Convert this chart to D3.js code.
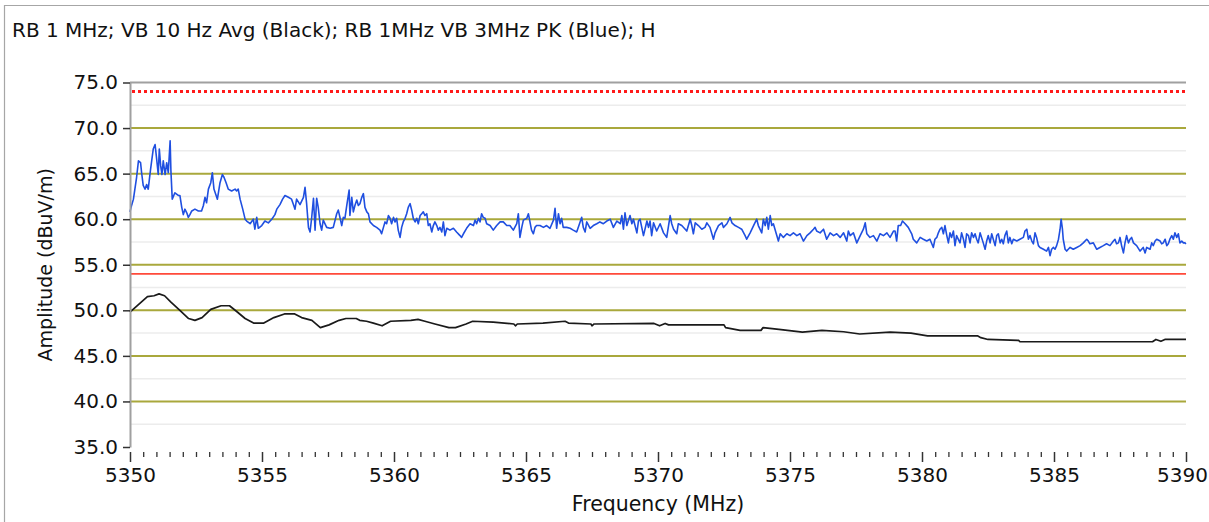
<!DOCTYPE html>
<html>
<head>
<meta charset="utf-8">
<script src="https://cdn.jsdelivr.net/npm/d3@7"></script>
<style>
  html, body { margin: 0; padding: 0; background: #fff; }
  svg { display: block; font-family: "DejaVu Sans", Verdana, sans-serif; }
</style>
</head>
<body>
<svg id="chart" width="1209" height="522"></svg>
<script>
// ---- chart data ----
const chartTitle = "RB 1 MHz; VB 10 Hz Avg (Black); RB 1MHz VB 3MHz PK (Blue); H";
const xLabel = "Frequency (MHz)";
const yLabel = "Amplitude (dBuV/m)";
const freqDomain = [5350, 5390];
const ampDomain = [35, 75];
const freqTicks = [5350, 5355, 5360, 5365, 5370, 5375, 5380, 5385, 5390];
const ampTicks = [35, 40, 45, 50, 55, 60, 65, 70, 75];
const peakLimit = 74;     // dBuV/m, dotted red
const avgLimit = 54;      // dBuV/m, solid red

// Peak detector sweep (blue): [MHz, dBuV/m]
const peakTrace = [
  [5350.00,60.8],[5350.04,61.3],[5350.13,62.2],[5350.25,64.6],[5350.32,66.4],[5350.40,66.2],[5350.44,65.1],
  [5350.50,63.7],[5350.57,63.3],[5350.63,63.8],[5350.69,63.3],[5350.78,65.5],[5350.88,67.7],[5350.95,68.2],
  [5351.01,66.6],[5351.07,64.9],[5351.11,67.7],[5351.16,65.9],[5351.21,64.9],[5351.26,66.4],[5351.33,64.9],
  [5351.39,66.2],[5351.45,65.1],[5351.52,68.6],[5351.55,65.3],[5351.60,62.2],[5351.70,62.9],[5351.83,62.6],
  [5351.89,62.6],[5351.96,61.3],[5352.02,60.5],[5352.08,61.1],[5352.15,60.7],[5352.21,60.2],[5352.27,60.5],
  [5352.34,60.9],[5352.46,61.1],[5352.59,60.9],[5352.71,60.9],[5352.78,61.5],[5352.84,62.4],[5352.90,61.8],
  [5352.97,63.3],[5353.06,64.0],[5353.12,65.1],[5353.18,63.3],[5353.25,62.7],[5353.31,62.2],[5353.41,64.0],
  [5353.50,64.9],[5353.56,64.6],[5353.64,64.0],[5353.72,63.3],[5353.85,63.1],[5353.98,63.3],[5354.04,63.1],
  [5354.10,63.3],[5354.17,62.2],[5354.27,61.1],[5354.36,60.0],[5354.42,59.8],[5354.55,59.5],[5354.67,60.0],
  [5354.73,58.9],[5354.80,60.2],[5354.86,59.0],[5354.99,59.3],[5355.11,59.8],[5355.24,59.6],[5355.37,60.0],
  [5355.49,60.5],[5355.56,61.1],[5355.68,61.6],[5355.78,62.2],[5355.87,62.6],[5356.00,62.4],[5356.12,62.2],
  [5356.19,61.6],[5356.25,61.1],[5356.31,62.2],[5356.44,61.6],[5356.57,62.4],[5356.63,63.5],[5356.69,61.7],
  [5356.76,59.1],[5356.82,58.6],[5356.88,60.1],[5356.95,62.3],[5357.01,58.8],[5357.07,62.3],[5357.13,61.3],
  [5357.20,59.5],[5357.26,58.8],[5357.32,59.9],[5357.45,59.1],[5357.58,59.0],[5357.70,59.1],[5357.83,60.6],
  [5357.89,61.0],[5357.96,60.1],[5358.02,59.3],[5358.08,60.2],[5358.14,60.1],[5358.21,61.5],[5358.30,63.2],
  [5358.33,60.4],[5358.40,62.4],[5358.46,60.8],[5358.52,61.5],[5358.59,62.1],[5358.65,61.5],[5358.71,61.7],
  [5358.78,62.4],[5358.84,62.8],[5358.90,61.3],[5358.97,60.8],[5359.03,60.6],[5359.09,59.7],[5359.22,59.3],
  [5359.34,59.1],[5359.47,58.8],[5359.53,58.4],[5359.60,59.1],[5359.66,59.7],[5359.72,59.5],[5359.79,60.4],
  [5359.85,60.1],[5359.91,59.5],[5359.98,60.2],[5360.04,59.7],[5360.10,60.1],[5360.16,58.8],[5360.23,58.0],
  [5360.29,59.1],[5360.35,59.7],[5360.42,60.1],[5360.48,60.6],[5360.54,61.3],[5360.61,61.7],[5360.67,61.0],
  [5360.73,60.1],[5360.80,59.7],[5360.86,60.1],[5360.92,59.5],[5360.99,60.4],[5361.05,60.6],[5361.11,60.8],
  [5361.17,60.4],[5361.24,60.6],[5361.30,59.3],[5361.36,59.5],[5361.43,58.6],[5361.49,59.3],[5361.55,59.7],
  [5361.62,59.3],[5361.68,58.8],[5361.74,59.1],[5361.81,58.6],[5361.87,59.7],[5361.93,58.2],[5362.00,59.0],
  [5362.12,58.8],[5362.25,59.0],[5362.37,58.6],[5362.50,58.2],[5362.56,58.0],[5362.63,58.4],[5362.75,59.0],
  [5362.88,59.5],[5363.01,59.3],[5363.07,59.9],[5363.13,59.5],[5363.20,60.1],[5363.26,59.7],[5363.32,60.6],
  [5363.38,60.2],[5363.45,60.1],[5363.51,59.5],[5363.64,59.3],[5363.76,58.8],[5363.89,59.3],[5364.02,59.7],
  [5364.14,59.7],[5364.27,59.3],[5364.39,59.3],[5364.52,58.8],[5364.65,59.5],[5364.71,60.6],[5364.77,58.0],
  [5364.84,59.1],[5364.90,59.9],[5365.03,60.1],[5365.09,60.6],[5365.15,59.7],[5365.21,58.8],[5365.28,58.4],
  [5365.34,59.1],[5365.40,59.3],[5365.53,59.3],[5365.66,59.1],[5365.78,59.3],[5365.91,59.0],[5366.04,59.9],
  [5366.10,61.2],[5366.16,59.0],[5366.23,60.6],[5366.29,59.5],[5366.35,60.1],[5366.41,59.1],[5366.54,59.1],
  [5366.67,59.0],[5366.79,58.8],[5366.92,58.6],[5367.05,59.7],[5367.11,60.2],[5367.17,59.1],[5367.24,58.6],
  [5367.30,59.7],[5367.43,59.0],[5367.55,59.3],[5367.68,59.5],[5367.80,59.7],[5367.93,59.5],[5368.06,59.8],
  [5368.19,60.0],[5368.31,59.1],[5368.44,59.8],[5368.57,59.5],[5368.63,60.4],[5368.69,58.9],[5368.75,60.7],
  [5368.82,59.3],[5368.94,60.4],[5369.01,59.5],[5369.07,60.0],[5369.20,58.5],[5369.26,59.8],[5369.32,60.0],
  [5369.45,58.2],[5369.58,59.8],[5369.64,59.1],[5369.70,59.8],[5369.76,58.2],[5369.83,59.6],[5369.95,58.7],
  [5370.08,59.5],[5370.21,58.5],[5370.33,58.0],[5370.40,59.3],[5370.46,60.4],[5370.52,59.5],[5370.59,58.9],
  [5370.71,58.4],[5370.77,59.5],[5370.90,59.3],[5371.03,58.9],[5371.09,58.7],[5371.22,60.0],[5371.28,59.3],
  [5371.34,58.4],[5371.41,59.6],[5371.53,59.3],[5371.66,58.9],[5371.78,59.1],[5371.85,59.6],[5371.97,59.1],
  [5372.10,57.8],[5372.16,58.5],[5372.29,59.3],[5372.42,59.6],[5372.48,59.1],[5372.61,59.5],[5372.73,60.2],
  [5372.80,59.6],[5372.92,59.3],[5373.05,59.1],[5373.17,58.9],[5373.30,58.2],[5373.36,57.8],[5373.49,58.5],
  [5373.62,59.3],[5373.74,60.0],[5373.80,59.3],[5373.93,58.5],[5373.99,60.0],[5374.06,59.3],[5374.12,60.2],
  [5374.18,58.9],[5374.25,60.4],[5374.31,59.3],[5374.37,59.5],[5374.50,58.2],[5374.56,57.6],[5374.63,58.4],
  [5374.75,58.0],[5374.88,58.4],[5375.00,58.2],[5375.13,58.5],[5375.26,58.2],[5375.38,58.4],[5375.51,57.6],
  [5375.64,58.2],[5375.76,58.5],[5375.89,58.9],[5375.95,59.1],[5376.01,58.7],[5376.14,58.5],[5376.27,58.9],
  [5376.39,57.8],[5376.52,58.5],[5376.65,58.2],[5376.77,58.4],[5376.90,58.0],[5377.03,58.5],[5377.15,57.6],
  [5377.21,58.7],[5377.28,58.2],[5377.40,58.5],[5377.53,57.4],[5377.66,58.2],[5377.78,58.9],[5377.85,59.6],
  [5377.91,58.4],[5378.03,58.0],[5378.16,58.2],[5378.29,57.6],[5378.41,58.4],[5378.54,58.2],[5378.67,58.5],
  [5378.79,58.0],[5378.92,58.7],[5378.98,58.7],[5379.04,57.6],[5379.10,59.3],[5379.19,59.3],[5379.26,59.8],
  [5379.36,59.5],[5379.48,59.1],[5379.61,58.4],[5379.67,57.8],[5379.80,57.4],[5379.93,58.0],[5380.05,57.8],
  [5380.18,57.6],[5380.30,57.8],[5380.43,56.9],[5380.49,57.8],[5380.56,58.0],[5380.62,58.5],[5380.68,58.9],
  [5380.75,59.1],[5380.81,58.4],[5380.87,59.3],[5380.94,58.2],[5381.00,57.4],[5381.06,58.5],[5381.12,58.0],
  [5381.19,58.7],[5381.25,57.1],[5381.31,58.2],[5381.44,57.4],[5381.50,58.5],[5381.57,57.8],[5381.63,56.9],
  [5381.69,58.4],[5381.76,58.2],[5381.82,57.4],[5381.88,58.5],[5381.95,58.0],[5382.01,58.4],[5382.07,57.8],
  [5382.13,57.4],[5382.20,58.5],[5382.32,57.4],[5382.39,56.7],[5382.45,57.6],[5382.51,58.2],[5382.58,57.4],
  [5382.64,58.4],[5382.70,57.8],[5382.77,57.1],[5382.83,58.2],[5382.89,58.4],[5382.96,57.4],[5383.02,57.8],
  [5383.08,57.3],[5383.14,58.2],[5383.21,58.7],[5383.27,57.4],[5383.33,58.0],[5383.40,57.3],[5383.46,57.8],
  [5383.59,57.6],[5383.71,57.8],[5383.84,58.0],[5383.90,58.7],[5383.97,58.9],[5384.03,57.8],[5384.09,58.2],
  [5384.16,57.6],[5384.22,57.3],[5384.28,58.5],[5384.34,58.0],[5384.41,57.1],[5384.47,56.9],[5384.60,56.7],
  [5384.72,56.5],[5384.79,56.9],[5384.85,56.0],[5384.91,56.7],[5384.98,56.9],[5385.04,56.7],[5385.10,57.1],
  [5385.17,57.8],[5385.23,58.9],[5385.27,60.0],[5385.32,58.9],[5385.35,57.8],[5385.42,56.7],[5385.48,56.5],
  [5385.54,56.7],[5385.61,56.9],[5385.73,56.7],[5385.86,56.9],[5385.99,57.1],[5386.11,57.4],[5386.24,57.8],
  [5386.30,57.6],[5386.36,57.3],[5386.49,57.4],[5386.62,56.7],[5386.74,56.9],[5386.87,57.1],[5386.99,57.3],
  [5387.12,57.1],[5387.25,57.6],[5387.31,57.8],[5387.37,57.3],[5387.44,57.4],[5387.50,58.0],[5387.56,57.1],
  [5387.63,56.3],[5387.69,57.4],[5387.75,58.2],[5387.82,57.4],[5387.88,57.8],[5387.94,58.0],[5388.01,57.4],
  [5388.13,57.1],[5388.26,56.5],[5388.38,56.9],[5388.45,56.3],[5388.51,56.9],[5388.64,56.7],[5388.70,57.4],
  [5388.76,57.1],[5388.83,57.6],[5388.89,57.8],[5389.02,57.6],[5389.08,57.3],[5389.14,57.4],[5389.21,57.8],
  [5389.27,57.1],[5389.33,57.3],[5389.39,57.8],[5389.46,58.2],[5389.52,57.8],[5389.58,58.5],[5389.65,58.0],
  [5389.71,58.4],[5389.77,57.4],[5389.84,57.6],[5389.90,57.4],[5389.96,57.4],[5390.00,57.3]
];

// Average detector sweep (black): [MHz, dBuV/m]
const avgTrace = [
  [5350.00,49.8],[5350.66,51.5],[5350.91,51.6],[5351.10,51.8],[5351.31,51.6],[5351.55,50.9],[5351.89,50.0],
  [5352.22,49.1],[5352.46,48.9],[5352.73,49.2],[5353.06,50.1],[5353.45,50.5],[5353.77,50.5],[5354.03,49.9],
  [5354.36,49.1],[5354.68,48.6],[5355.07,48.6],[5355.45,49.2],[5355.85,49.6],[5356.24,49.6],[5356.50,49.2],
  [5356.89,48.9],[5357.21,48.1],[5357.54,48.4],[5357.92,48.9],[5358.18,49.1],[5358.57,49.1],[5358.70,48.9],
  [5358.96,48.8],[5359.22,48.6],[5359.55,48.3],[5359.87,48.8],[5360.64,48.9],[5360.91,49.0],[5361.17,48.8],
  [5361.55,48.5],[5362.08,48.1],[5362.33,48.1],[5362.73,48.5],[5362.98,48.8],[5363.76,48.7],[5364.54,48.5],
  [5364.60,48.3],[5364.67,48.5],[5365.64,48.6],[5366.48,48.8],[5366.61,48.6],[5367.46,48.5],[5367.50,48.3],
  [5367.58,48.5],[5369.85,48.56],[5370.06,48.3],[5370.27,48.56],[5370.40,48.4],[5372.50,48.4],[5372.56,48.1],
  [5373.11,47.8],[5373.90,47.8],[5373.98,48.1],[5374.58,47.9],[5375.47,47.6],[5376.21,47.8],[5377.03,47.65],
  [5377.64,47.4],[5378.79,47.6],[5379.58,47.5],[5380.21,47.2],[5382.10,47.2],[5382.23,47.0],[5382.50,46.8],
  [5383.66,46.7],[5383.71,46.55],[5388.73,46.55],[5388.86,46.8],[5389.05,46.6],[5389.20,46.8],[5390.00,46.8]
];

// ---- layout ----
const W = 1209, H = 522;
const plot = { left: 130, right: 1186, top: 82.5, bottom: 447 };

const svg = d3.select("#chart");

const x = d3.scaleLinear().domain(freqDomain).range([plot.left, plot.right]);
const y = d3.scaleLinear().domain(ampDomain).range([plot.bottom, plot.top]);

// outer panel frame (top and left edges)
svg.append("path")
  .attr("d", `M4.5,${H}V5.5H${W}`)
  .attr("fill", "none").attr("stroke", "#a6a6a6").attr("stroke-width", 1.2);

// title
svg.append("text")
  .attr("x", 12).attr("y", 37)
  .attr("font-size", 20).attr("fill", "#111")
  .text(chartTitle);

// light minor gridlines every 2.5 dB
const minorAmp = d3.range(ampDomain[0] + 2.5, ampDomain[1], 5);
svg.append("g").selectAll("line").data(minorAmp).join("line")
  .attr("x1", plot.left).attr("x2", plot.right)
  .attr("y1", d => y(d)).attr("y2", d => y(d))
  .attr("stroke", "#ececec").attr("stroke-width", 1.5);

// olive major gridlines
svg.append("g").selectAll("line")
  .data(ampTicks.filter(d => d > ampDomain[0] && d < ampDomain[1]))
  .join("line")
  .attr("x1", plot.left).attr("x2", plot.right)
  .attr("y1", d => y(d)).attr("y2", d => y(d))
  .attr("stroke", "#a9a83c").attr("stroke-width", 2);

// top frame line
svg.append("line")
  .attr("x1", plot.left).attr("x2", plot.right)
  .attr("y1", y(ampDomain[1])).attr("y2", y(ampDomain[1]))
  .attr("stroke", "#a0a0a0").attr("stroke-width", 2);

// limit lines
svg.append("line")
  .attr("x1", plot.left + 2).attr("x2", plot.right)
  .attr("y1", y(peakLimit)).attr("y2", y(peakLimit))
  .attr("stroke", "#ff1a1a").attr("stroke-width", 3)
  .attr("stroke-dasharray", "3,3");
svg.append("line")
  .attr("x1", plot.left).attr("x2", plot.right)
  .attr("y1", y(avgLimit)).attr("y2", y(avgLimit))
  .attr("stroke", "#ff4a3a").attr("stroke-width", 1.6);

// traces
const line = d3.line().x(d => x(d[0])).y(d => y(d[1]));
svg.append("path").datum(avgTrace)
  .attr("d", line).attr("fill", "none")
  .attr("stroke", "#1a1a1a").attr("stroke-width", 1.7)
  .attr("stroke-linejoin", "round");
svg.append("path").datum(peakTrace)
  .attr("d", line).attr("fill", "none")
  .attr("stroke", "#1f4fe0").attr("stroke-width", 1.6)
  .attr("stroke-linejoin", "round");

// y axis
const yAxis = svg.append("g")
  .attr("transform", `translate(${plot.left},0)`)
  .call(d3.axisLeft(y).tickValues(ampTicks).tickSize(7).tickSizeOuter(0)
    .tickPadding(5).tickFormat(d3.format(".1f")));
yAxis.select(".domain").attr("stroke", "#a0a0a0").attr("stroke-width", 2);
yAxis.selectAll(".tick line").attr("stroke", "#333").attr("stroke-width", 1.5);
yAxis.selectAll(".tick text")
  .attr("font-family", "DejaVu Sans, sans-serif").attr("font-size", 20).attr("fill", "#111");

// x axis: minor ticks every 0.5 MHz, major every 5 MHz
const xAxisY = 452;
const minorFreq = d3.range(freqDomain[0], freqDomain[1] + 0.001, 0.5)
  .filter(f => !freqTicks.includes(f));
const xMinor = svg.append("g")
  .attr("transform", `translate(0,${xAxisY})`)
  .call(d3.axisBottom(x).tickValues(minorFreq).tickSize(5).tickFormat(""));
xMinor.select(".domain").remove();
xMinor.selectAll(".tick line").attr("stroke", "#333").attr("stroke-width", 1.3);

const xAxis = svg.append("g")
  .attr("transform", `translate(0,${xAxisY})`)
  .call(d3.axisBottom(x).tickValues(freqTicks).tickSize(10).tickPadding(6)
    .tickFormat(d3.format("d")));
xAxis.select(".domain").remove();
xAxis.selectAll(".tick line").attr("stroke", "#333").attr("stroke-width", 1.5);
xAxis.selectAll(".tick text")
  .attr("font-family", "DejaVu Sans, sans-serif").attr("font-size", 20).attr("fill", "#111");
// keep the last label inside the panel
xAxis.selectAll(".tick text").filter(d => d === freqDomain[1]).attr("x", -4);

// axis titles
svg.append("text")
  .attr("x", 658).attr("y", 511)
  .attr("text-anchor", "middle").attr("font-size", 20.5).attr("fill", "#111")
  .text(xLabel);
svg.append("text")
  .attr("transform", `translate(52,${(plot.top + plot.bottom) / 2}) rotate(-90)`)
  .attr("text-anchor", "middle").attr("font-size", 19).attr("fill", "#111")
  .text(yLabel);
</script>
</body>
</html>
